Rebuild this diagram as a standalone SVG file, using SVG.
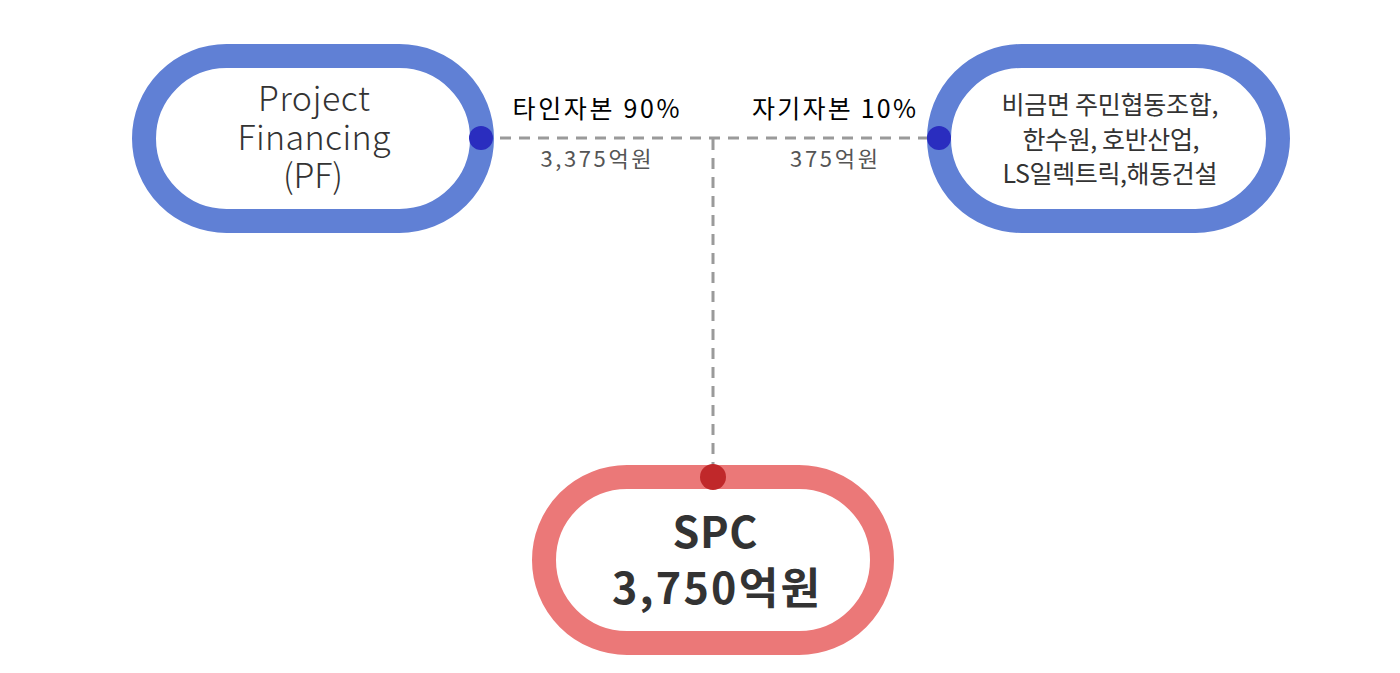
<svg xmlns="http://www.w3.org/2000/svg" width="1400" height="673" viewBox="0 0 1400 673">
<style>
.t{font-family:"Noto Sans CJK KR","Noto Sans",sans-serif;text-anchor:middle}
.blue{fill:#fff;stroke:#6080d5;stroke-width:24}
.red{fill:#fff;stroke:#eb7878;stroke-width:24}
.conn{stroke:#9a9a9a;stroke-width:3;stroke-dasharray:11 8;fill:none}
</style>
<rect width="1400" height="673" fill="#fff"/>
<g id="connectors">
<path class="conn" d="M481,138 H939"/>
<path class="conn" d="M713,139 V465"/>
</g>
<g id="pf">
<rect class="blue" x="144" y="56" width="338" height="165" rx="82.5"/>
<circle cx="481" cy="138" r="12" fill="#2a2dbf"/>
<text class="t" x="314" y="111" font-size="34" font-weight="300" fill="#333" textLength="112">Project</text>
<text class="t" x="314" y="150" font-size="34" font-weight="300" fill="#333" textLength="153">Financing</text>
<text class="t" x="313" y="188" font-size="34" font-weight="300" fill="#333" textLength="60">(PF)</text>
</g>
<g id="equity">
<rect class="blue" x="939" y="56" width="339" height="165" rx="82.5"/>
<circle cx="939" cy="138" r="12" fill="#2a2dbf"/>
<text class="t" x="1110" y="114" font-size="25" fill="#333" textLength="217">비금면 주민협동조합,</text>
<text class="t" x="1111" y="149" font-size="25" fill="#333" textLength="177">한수원, 호반산업,</text>
<text class="t" x="1110" y="183" font-size="25" fill="#333" textLength="215">LS일렉트릭,해동건설</text>
</g>
<g id="spc">
<rect class="red" x="544" y="477" width="338" height="166" rx="83"/>
<circle cx="713" cy="477" r="13" fill="#c0282a"/>
<text class="t" x="715" y="548" font-size="43" font-weight="bold" fill="#333" textLength="85">SPC</text>
<text class="t" x="716" y="604" font-size="43" font-weight="bold" fill="#333" textLength="208">3,750억원</text>
</g>
<g id="labels">
<text class="t" x="596" y="118" font-size="25" fill="#000" textLength="167">타인자본 90%</text>
<text class="t" x="596" y="167" font-size="22" fill="#555" textLength="111">3,375억원</text>
<text class="t" x="834" y="118" font-size="25" fill="#000" textLength="164">자기자본 10%</text>
<text class="t" x="834" y="167" font-size="22" fill="#555" textLength="88">375억원</text>
</g>
</svg>
